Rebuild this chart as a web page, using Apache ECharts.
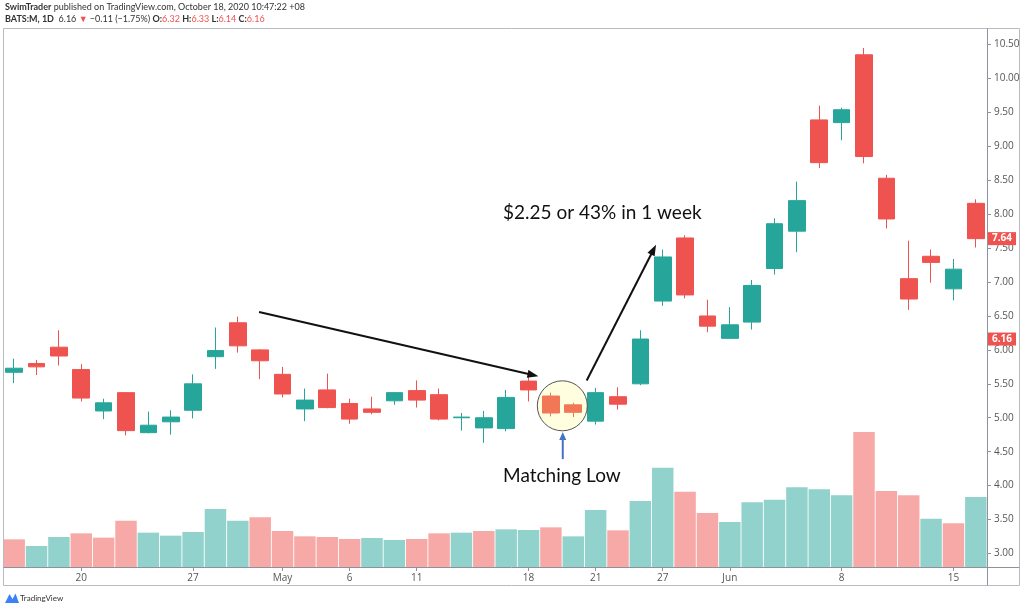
<!DOCTYPE html>
<html><head><meta charset="utf-8">
<script src="https://cdn.jsdelivr.net/npm/echarts@6/dist/echarts.min.js"></script>
<style>html,body{margin:0;padding:0;background:#fff}#c{width:1024px;height:610px}</style>
</head><body><div id="c"></div>
<script>
// ---- data ----
const dates = ['2020-04-15','2020-04-16','2020-04-17','2020-04-20','2020-04-21','2020-04-22','2020-04-23','2020-04-24','2020-04-27','2020-04-28','2020-04-29','2020-04-30',
'2020-05-01','2020-05-04','2020-05-05','2020-05-06','2020-05-07','2020-05-08','2020-05-11','2020-05-12','2020-05-13','2020-05-14','2020-05-15','2020-05-18','2020-05-19','2020-05-20','2020-05-21','2020-05-22','2020-05-26','2020-05-27','2020-05-28','2020-05-29',
'2020-06-01','2020-06-02','2020-06-03','2020-06-04','2020-06-05','2020-06-08','2020-06-09','2020-06-10','2020-06-11','2020-06-12','2020-06-15','2020-06-16'];
const opens  = [5.67,5.80,6.04,5.71,5.10,5.37,4.78,4.94,5.11,5.90,6.40,6.00,5.64,5.13,5.41,5.21,5.13,5.25,5.40,5.34,5.00,4.85,4.84,5.54,5.32,5.19,4.95,5.31,5.50,6.72,7.65,6.50,6.17,6.41,7.20,7.75,9.39,9.35,10.35,8.53,7.05,7.38,6.90,8.16];
const closes = [5.73,5.75,5.91,5.29,5.22,4.81,4.89,5.01,5.50,5.99,6.06,5.84,5.35,5.26,5.15,4.98,5.08,5.37,5.26,4.98,5.01,5.00,5.30,5.41,5.07,5.08,5.37,5.20,6.16,7.37,6.81,6.35,6.37,6.95,7.86,8.20,8.76,9.54,8.85,7.93,6.75,7.29,7.19,7.64];
const lows   = [5.51,5.63,5.77,5.24,4.98,4.74,4.77,4.75,4.99,5.72,5.96,5.57,5.30,4.95,5.14,4.91,5.05,5.19,5.15,4.96,4.81,4.63,4.80,5.24,5.02,5.01,4.90,5.12,5.48,6.65,6.76,6.26,6.16,6.30,7.11,7.44,8.68,9.09,8.75,7.79,6.59,6.99,6.73,7.51];
const highs  = [5.87,5.85,6.29,5.79,5.28,5.38,5.09,5.11,5.64,6.33,6.49,6.01,5.75,5.43,5.65,5.28,5.31,5.37,5.55,5.43,5.07,5.10,5.41,5.70,5.37,5.22,5.44,5.45,6.29,7.48,7.69,6.74,6.63,7.03,7.94,8.48,9.60,9.57,10.45,8.58,7.61,7.48,7.34,8.22];
const volumes = [8.3,6.3,9.0,10.1,8.8,13.9,10.3,9.4,10.5,17.4,13.9,14.9,10.8,9.2,9.0,8.4,8.7,8.1,8.4,10.1,10.3,10.8,11.3,11.1,11.9,9.2,17.1,11.0,19.8,29.8,22.6,16.2,13.5,19.4,20.2,23.9,23.3,21.5,40.5,22.8,21.5,14.5,13.1,21.0];
const prevClose = 5.80;
const tickDates = ['2020-04-20','2020-04-27','2020-05-01','2020-05-06','2020-05-11','2020-05-18','2020-05-21','2020-05-27','2020-06-01','2020-06-08','2020-06-15'];
const tickTexts = ['20','27','May','6','11','18','21','27','Jun','8','15'];
const priceTicks = [3.00,3.50,4.00,4.50,5.00,5.50,6.00,6.50,7.00,7.50,8.00,8.50,9.00,9.50,10.00,10.50];
const lastClose = 7.64;
const publishPrice = 6.16;

// ---- style ----
const UP = '#26a69a', DOWN = '#ef5350';
const GRID = {left: 3, right: 37, top: 29, bottom: 43};
const W = 1024, H = 610;
const AXC = '#8f929b';
const FONT = "'Open Sans', 'Noto Sans', sans-serif";

const candleData = dates.map((d, i) => [opens[i], closes[i], lows[i], highs[i]]);
const volData = volumes.map((v, i) => {
  const pc = i ? closes[i - 1] : prevClose;
  return {value: v, itemStyle: {color: closes[i] >= pc ? 'rgba(38,166,154,0.5)' : 'rgba(239,83,80,0.5)'}};
});

const chart = echarts.init(document.getElementById('c'), null, {renderer: 'canvas'});
chart.setOption({
  animation: false,
  backgroundColor: '#ffffff',
  grid: {left: GRID.left, right: GRID.right, top: GRID.top, bottom: GRID.bottom, containLabel: false},
  xAxis: {
    type: 'category', data: dates, boundaryGap: true,
    axisLine: {show: false},
    axisTick: {show: true, alignWithLabel: true, interval: (i, v) => tickDates.includes(v), length: 4, lineStyle: {color: AXC}},
    axisLabel: {interval: (i, v) => tickDates.includes(v), formatter: v => tickTexts[tickDates.indexOf(v)], color: '#555', fontSize: 10, margin: 6, fontFamily: FONT},
    splitLine: {show: false}
  },
  yAxis: [{
    type: 'value', position: 'right', min: 2.80, max: 10.73,
    axisLine: {show: false},
    axisTick: {show: true, customValues: priceTicks, length: 4, lineStyle: {color: AXC}},
    axisLabel: {customValues: priceTicks, formatter: v => v.toFixed(2), color: '#555', fontSize: 10, margin: 7, fontFamily: FONT},
    splitLine: {show: false}
  }, {
    type: 'value', min: 0, max: 161.4, show: false
  }],
  series: [{
    type: 'bar', yAxisIndex: 1, data: volData, barCategoryGap: '4%', z: 1, silent: true
  }, {
    type: 'candlestick', data: candleData, barWidth: '77%', z: 3,
    itemStyle: {color: UP, color0: DOWN, borderColor: UP, borderColor0: DOWN, borderWidth: 1},
    markLine: {
      silent: true, symbol: 'none', animation: false,
      lineStyle: {color: 'rgba(0,0,0,0)', width: 0, type: 'solid'},
      label: {show: true, position: 'end', distance: 1, color: '#fff', backgroundColor: DOWN, padding: [2, 4, 1, 4], fontSize: 10, fontWeight: 'bold', fontFamily: FONT, formatter: p => Number(p.value).toFixed(2)},
      emphasis: {disabled: true},
      data: [{yAxis: lastClose}, {yAxis: publishPrice}]
    }
  }]
});

// ---- annotations anchored to data coordinates ----
function toPx(idx, price) {
  const a = chart.convertToPixel({xAxisIndex: 0, yAxisIndex: 0}, [0, price]);
  const b = chart.convertToPixel({xAxisIndex: 0, yAxisIndex: 0}, [dates.length - 1, price]);
  return [a[0] + (b[0] - a[0]) * idx / (dates.length - 1), a[1]];
}
function arrow(from, to, color, width, headLen, headW) {
  const A = toPx(from[0], from[1]), B = toPx(to[0], to[1]);
  const dx = B[0] - A[0], dy = B[1] - A[1], L = Math.hypot(dx, dy);
  const ux = dx / L, uy = dy / L;
  const bx = B[0] - ux * headLen, by = B[1] - uy * headLen;
  return [
    {type: 'line', z: 100, shape: {x1: A[0], y1: A[1], x2: bx + ux * 2, y2: by + uy * 2}, style: {stroke: color, lineWidth: width}},
    {type: 'polygon', z: 100, shape: {points: [[B[0], B[1]], [bx - uy * headW / 2, by + ux * headW / 2], [bx + uy * headW / 2, by - ux * headW / 2]]}, style: {fill: color}}
  ];
}
const ann = [];
ann.push(...arrow([10.95, 6.56], [23.44, 5.61], '#111', 2, 11, 8));
ann.push(...arrow([25.6, 5.55], [28.7, 7.55], '#111', 2, 11, 8));
ann.push(...arrow([24.53, 4.39], [24.53, 4.79], '#4472c4', 2, 8, 7));
const cc = toPx(24.51, 5.176);
ann.push({type: 'circle', z: 99, shape: {cx: cc[0], cy: cc[1], r: 25}, style: {fill: 'rgba(255,250,110,0.22)', stroke: '#555', lineWidth: 1}});
const t1 = toPx(21.86, 8.02);
ann.push({type: 'text', z: 100, x: t1[0], y: t1[1], style: {text: '$2.25 or 43% in 1 week', fill: '#111', font: "19px Lato, 'Open Sans', sans-serif", textVerticalAlign: 'middle'}});
const t2 = toPx(21.86, 4.143);
ann.push({type: 'text', z: 100, x: t2[0], y: t2[1], style: {text: 'Matching Low', fill: '#111', font: "19px Lato, 'Open Sans', sans-serif", textVerticalAlign: 'middle'}});

// frame
const pr = W - GRID.right, pb = H - GRID.bottom;
const frame = [
  {type: 'rect', z: 50, shape: {x: 3.5, y: 28.5, width: 1016, height: 557}, style: {fill: 'none', stroke: '#b8bbc2', lineWidth: 1}},
  {type: 'line', z: 50, shape: {x1: 3.5, y1: pb + 0.5, x2: 1019.5, y2: pb + 0.5}, style: {stroke: AXC, lineWidth: 1}},
  {type: 'line', z: 50, shape: {x1: pr + 0.5, y1: 28.5, x2: pr + 0.5, y2: 585.5}, style: {stroke: AXC, lineWidth: 1}}
];

// header & footer
const HF = "Lato, 'Open Sans', sans-serif";
const header = [
  {type: 'text', x: 5, y: 7, style: {
    text: '{b|SwimTrader} published on TradingView.com, October 18, 2020 10:47:22 +08',
    fill: '#333', font: "9px " + HF, textVerticalAlign: 'middle',
    rich: {b: {fontWeight: 'bold', fontSize: 9, fontFamily: 'Lato', fill: '#333'}}}},
  {type: 'text', x: 5, y: 19, style: {
    text: '{b|BATS:M, 1D}  6.16 {r|▼} −0.11 (−1.75%) {b|O:}{r|6.32} {b|H:}{r|6.33} {b|L:}{r|6.14} {b|C:}{r|6.16}',
    fill: '#333', font: "9px " + HF, textVerticalAlign: 'middle',
    rich: {b: {fontWeight: 'bold', fontSize: 9, fontFamily: 'Lato', fill: '#333'}, r: {fontSize: 9, fontFamily: 'Lato', fill: '#ef5350'}}}},
  {type: 'polygon', shape: {points: [[5, 603], [9.5, 594], [12.5, 599], [15.5, 593.5], [19, 603]]}, style: {fill: '#3b82f6'}},
  {type: 'text', x: 20, y: 598.5, style: {text: 'TradingView', fill: '#333', font: "8px " + HF, textVerticalAlign: 'middle'}}
];

chart.setOption({graphic: [...frame, ...ann, ...header]});
</script>
</body></html>
